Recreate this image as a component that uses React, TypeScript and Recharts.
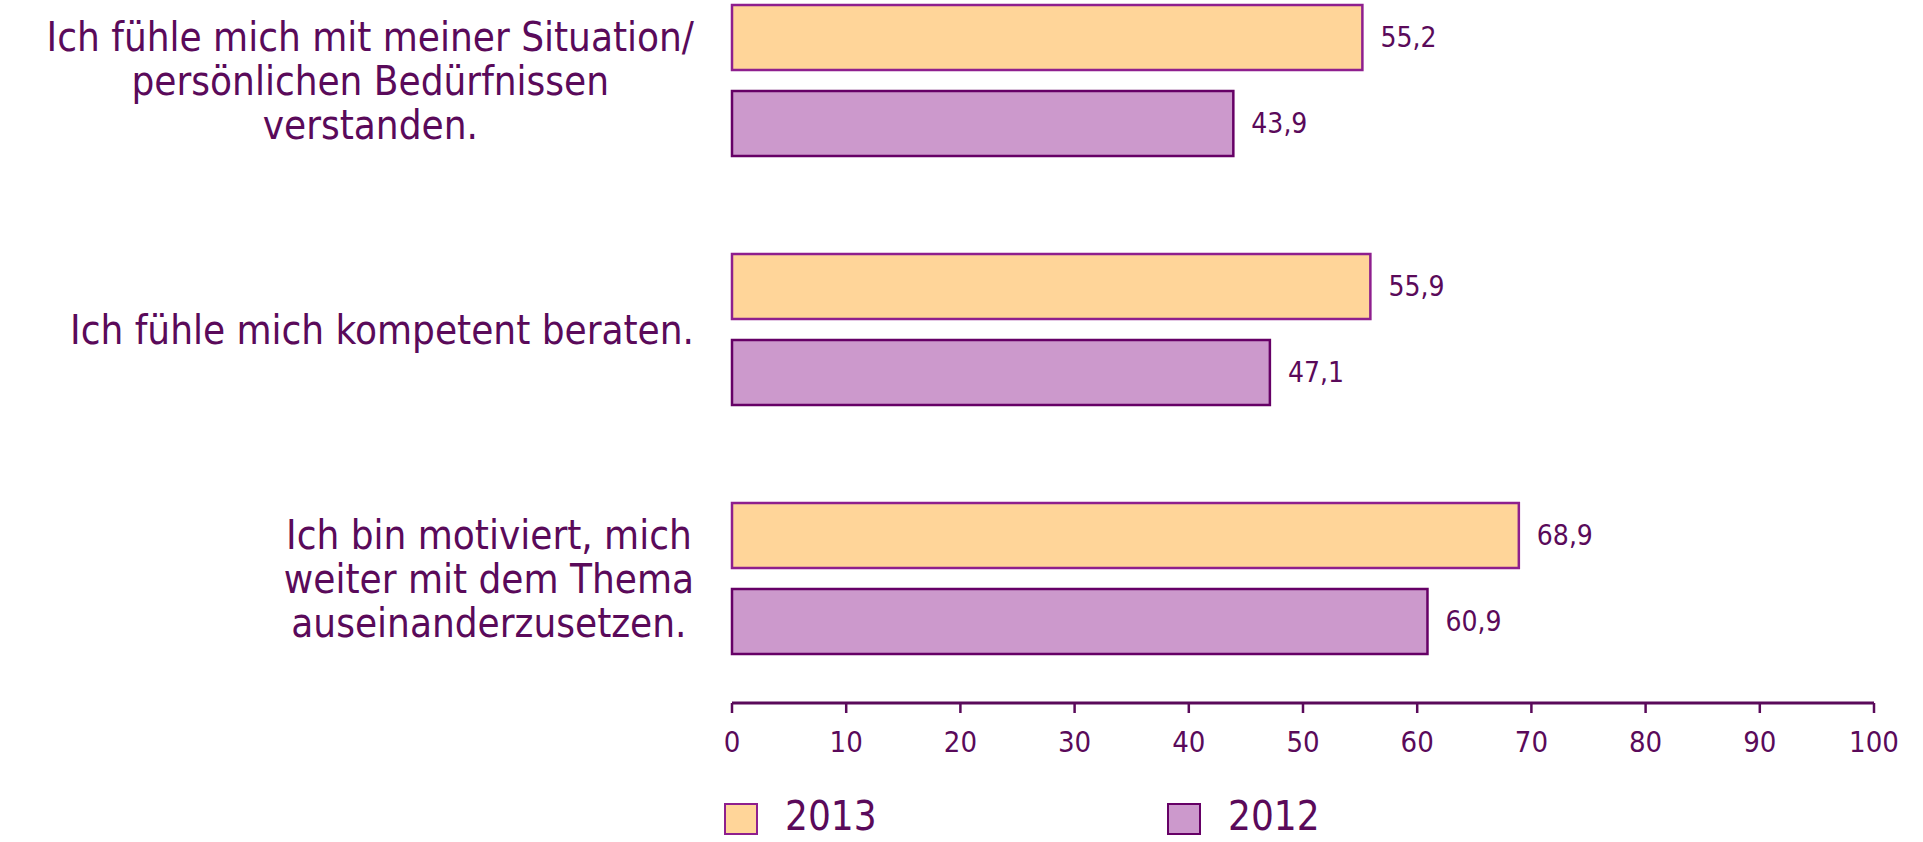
import React from "react";
import { BarChart, Bar, XAxis, YAxis, Legend, LabelList } from "recharts";

const categories = [
  "Ich fühle mich mit meiner Situation/\npersönlichen Bedürfnissen\nverstanden.",
  "Ich fühle mich kompetent beraten.",
  "Ich bin motiviert, mich\nweiter mit dem Thema\nauseinanderzusetzen.",
];
const values2013 = [55.2, 55.9, 68.9];
const values2012 = [43.9, 47.1, 60.9];
const xTicks = [0, 10, 20, 30, 40, 50, 60, 70, 80, 90, 100];

const series = [
  { key: "y2013", name: "2013", fill: "#FFD599", stroke: "#8E1F8E" },
  { key: "y2012", name: "2012", fill: "#CC99CC", stroke: "#660066" },
];

const data = categories.map((name, i) => ({
  name,
  y2013: values2013[i],
  y2012: values2012[i],
}));

const W = 1923;
const H = 842;
const SHIFT = 44; // plot top sits above the visible page
const TEXT = "#5a0a5a";
const FONT = "'DejaVu Sans Condensed', 'DejaVu Sans', sans-serif";
const CAT_FONT = 40;
const LINE_H = 44;
const LABEL_RIGHT = 694;
const LEGEND_X = [724, 1167];

let ctx: CanvasRenderingContext2D | null = null;
const measure = (s: string, font: string) => {
  if (!ctx) ctx = document.createElement("canvas").getContext("2d");
  if (!ctx) return s.length * 20;
  ctx.font = font;
  return ctx.measureText(s).width;
};

const CategoryTick = (props: any) => {
  const { y, payload } = props;
  const lines = String(payload.value).split("\n");
  const font = `${CAT_FONT}px ${FONT}`;
  const maxW = Math.max(...lines.map((l) => measure(l, font)));
  const cx = LABEL_RIGHT - maxW / 2;
  const top = y - ((lines.length - 1) * LINE_H) / 2;
  return (
    <g>
      {lines.map((l, i) => (
        <text
          key={i}
          x={cx}
          y={top + i * LINE_H}
          textAnchor="middle"
          dominantBaseline="central"
          fill={TEXT}
          fontSize={CAT_FONT}
          fontFamily={FONT}
        >
          {l}
        </text>
      ))}
    </g>
  );
};

const fmt = (v: any) => Number(v).toFixed(1).replace(".", ",");

const LegendContent = () => (
  <div style={{ position: "relative", width: W, height: 40 }}>
    {series.map((s, i) => (
      <div key={s.key} style={{ position: "absolute", left: LEGEND_X[i], top: 0 }}>
        <div
          style={{
            position: "absolute",
            left: 0,
            top: 0,
            width: 30,
            height: 28,
            background: s.fill,
            border: `2px solid ${s.stroke}`,
          }}
        />
        <span
          style={{
            position: "absolute",
            left: 61,
            top: -7,
            fontFamily: FONT,
            fontSize: 40,
            lineHeight: "40px",
            color: TEXT,
            whiteSpace: "nowrap",
          }}
        >
          {s.name}
        </span>
      </div>
    ))}
  </div>
);

export default function App() {
  return (
    <div
      style={{
        position: "absolute",
        left: 0,
        top: 0,
        width: W,
        height: H,
        overflow: "hidden",
        background: "#fff",
      }}
    >
      <div style={{ position: "absolute", left: 0, top: -SHIFT }}>
        <BarChart
          width={W}
          height={H + SHIFT}
          data={data}
          layout="vertical"
          margin={{ top: 0, right: 49, bottom: 79, left: 0 }}
          barSize={65}
          barGap={21}
        >
          <XAxis
            type="number"
            domain={[0, 100]}
            ticks={xTicks}
            interval={0}
            height={60}
            axisLine={{ stroke: TEXT, strokeWidth: 3 }}
            tickLine={{ stroke: TEXT, strokeWidth: 2.5 }}
            tickSize={10}
            tickMargin={18}
            tick={{ fill: TEXT, fontSize: 29, fontFamily: FONT }}
          />
          <YAxis
            type="category"
            dataKey="name"
            width={732}
            axisLine={false}
            tickLine={false}
            tick={<CategoryTick />}
            interval={0}
          />
          <Legend
            layout="horizontal"
            verticalAlign="middle"
            align="center"
            wrapperStyle={{ position: "absolute", left: 0, top: 803 + SHIFT, width: W }}
            content={<LegendContent />}
          />
          {series.map((s) => (
            <Bar
              key={s.key}
              dataKey={s.key}
              name={s.name}
              fill={s.fill}
              stroke={s.stroke}
              strokeWidth={2.5}
              isAnimationActive={false}
            >
              <LabelList
                dataKey={s.key}
                position="right"
                offset={18}
                formatter={fmt}
                fill={TEXT}
                fontSize={28}
                fontFamily={FONT}
              />
            </Bar>
          ))}
        </BarChart>
      </div>
    </div>
  );
}
